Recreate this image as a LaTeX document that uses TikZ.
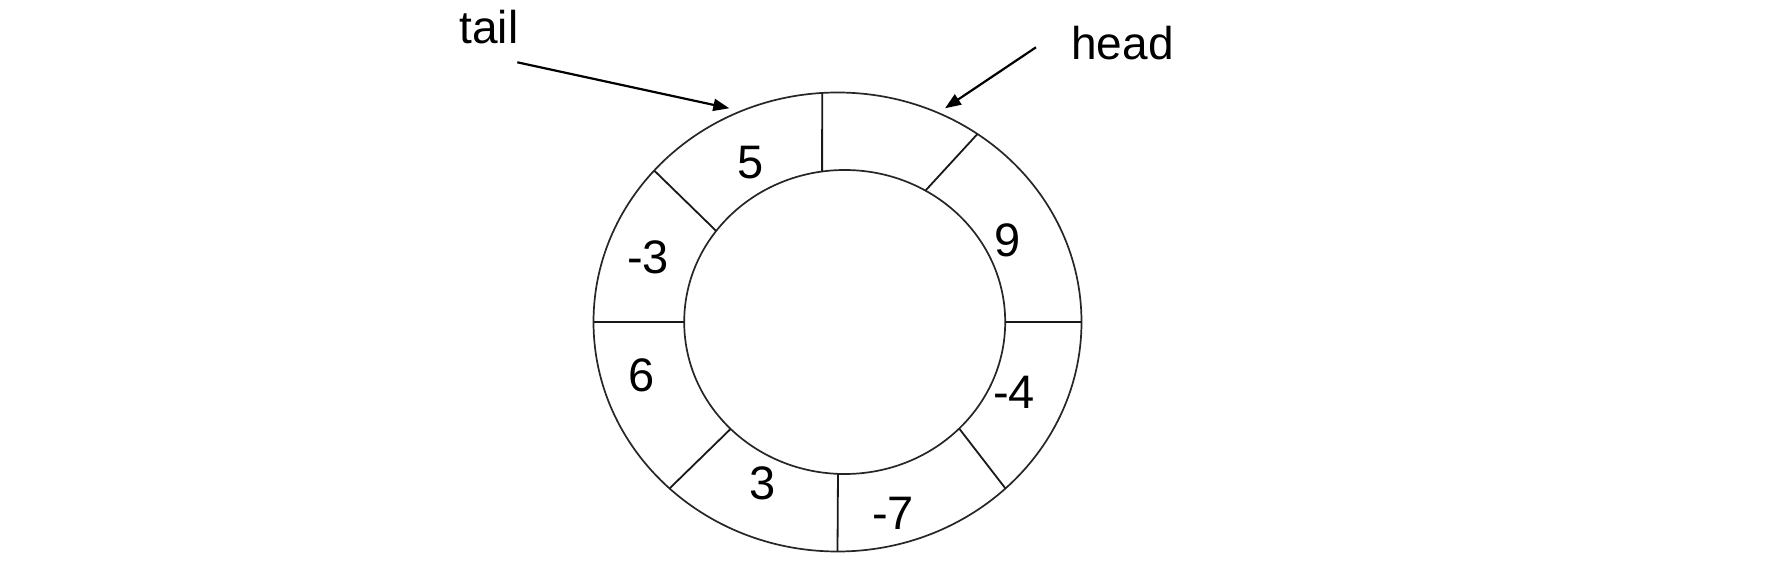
\documentclass[tikz,border=0pt]{standalone}
\usepackage{fontspec}
\setmainfont{Liberation Sans}
\usetikzlibrary{arrows.meta}
\begin{document}
\begin{tikzpicture}[x=1pt,y=-1pt,
  ring/.style={line width=1.7pt, draw=black!85},
  divider/.style={line width=1.8pt, draw=black!90},
  pointer/.style={line width=2.2pt, -{Triangle[length=16pt,width=12pt]}},
  val/.style={inner sep=0pt, font=\fontsize{47}{56}\selectfont},
  lbl/.style={inner sep=0pt, font=\fontsize{46}{55}\selectfont, anchor=base}]
\useasboundingbox[fill=white] (0,0) rectangle (1788,561);
% ellipses
\draw[ring] (837.5,322) ellipse [x radius=244pt, y radius=229.5pt];
\draw[ring] (844.7,322) ellipse [x radius=160.5pt, y radius=152pt];
% dividers (outer point -- inner point)
\foreach \to/\ti in {93.6/98.1, 55/59.8, 0/0, 313.5/315.5, 270/267.6, 226.5/224.7, 180/180, 138.7/143.2}{
  \draw[divider] ({837.5+244*cos(\to)},{322-229.5*sin(\to)}) -- ({844.7+160.5*cos(\ti)},{322-152*sin(\ti)});
}
% values
\node[val] (v5)  at (750.5,162.5) {5};
\node[val] (v9)  at (1007.2,240) {9};
\node[val] (vm4) at (1014.2,392.8) {-4};
\node[val] (vm7) at (893,513.3) {-7};
\node[val] (v3)  at (762.5,483.3) {3};
\node[val] (v6)  at (641.7,375.8) {6};
\node[val] (vm3) at (648,257.5) {-3};
% labels and pointers
\node[lbl] (tail) at (489,43.3) {tail};
\node[lbl] (head) at (1122.5,60) {head};
\coordinate (tailstart) at (517.3,62.3);
\coordinate (tailtip) at (729.3,108.3);
\coordinate (headstart) at (1036,47.3);
\coordinate (headtip) at (945,108.3);
\draw[pointer] (tailstart) -- (tailtip);
\draw[pointer] (headstart) -- (headtip);
\end{tikzpicture}
\end{document}
